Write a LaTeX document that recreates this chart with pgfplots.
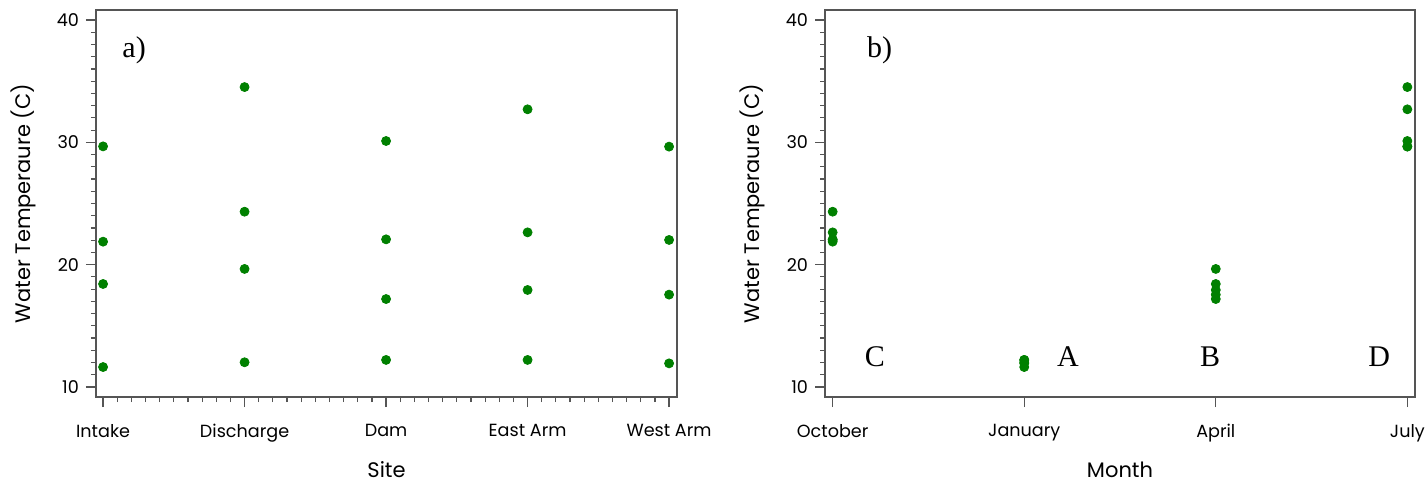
\documentclass[border=0pt]{standalone}
\usepackage{pgfplots}
\usepackage{pgfplotstable}
\pgfplotsset{compat=1.18}
\usepackage{fontspec}
\setmainfont{Poppins}
\newfontfamily\seriffont{Liberation Serif}

\definecolor{ptgreen}{RGB}{0,128,0}
\definecolor{axisgray}{RGB}{85,85,85}

% Water temperature by sampling site (0 = Intake ... 4 = West Arm)
\pgfplotstableread{
x y
0 29.67
0 21.88
0 18.42
0 11.63
1 34.52
1 24.33
1 19.65
1 12.02
2 30.11
2 22.07
2 17.19
2 12.21
3 32.70
3 22.64
3 17.93
3 12.21
4 29.65
4 22.02
4 17.55
4 11.93
}\sitedata

% Water temperature by month (0 = October ... 3 = July)
\pgfplotstableread{
x y
0 24.33
0 22.64
0 22.07
0 22.02
0 21.88
1 11.63
1 12.02
1 12.21
1 12.21
1 11.93
2 18.42
2 19.65
2 17.19
2 17.93
2 17.55
3 29.67
3 34.52
3 30.11
3 32.70
3 29.65
}\monthdata

\tikzset{tag/.style={inner sep=0pt, font=\seriffont\fontsize{15}{17}\selectfont}}

\pgfplotsset{
  panel/.style={
    scale only axis,
    height=193.5pt,
    ymin=9.18, ymax=40.82,
    ytick={10,20,30,40},
    minor y tick num=9,
    tick align=outside,
    tick pos=left,
    major tick length=5pt,
    minor tick length=2.5pt,
    axis line style={axisgray, line width=0.7pt},
    every tick/.style={axisgray, line width=0.6pt},
    /pgf/number format/assume math mode=true,
    tick label style={font=\fontsize{8.8}{10}\selectfont},
    xticklabel shift=5pt,
    label style={font=\fontsize{10.5}{12}\selectfont},
    ylabel={Water Temperaure (C)},
    ylabel style={at={([xshift=-36.5pt]axis description cs:0,0.5)}, anchor=center, rotate=0},
    xlabel style={at={([yshift=-36.5pt]axis description cs:0.5,0)}, anchor=center},
    clip=false,
  },
  dots/.style={only marks, mark=*, mark size=2.25pt,
    mark options={draw=ptgreen, fill=ptgreen}},
}

\begin{document}
\begin{tikzpicture}
\path[use as bounding box] (0,0) rectangle (714pt,241.5pt);

\begin{axis}[panel,
  at={(48pt,43pt)}, anchor=south west,
  width=290.5pt,
  xmin=-0.05, xmax=4.056,
  xtick={0,1,2,3,4},
  xticklabels={Intake,Discharge,Dam,East Arm,West Arm},
  minor x tick num=9,
  xlabel={Site},
]
\addplot[dots] table[x=x, y=y] {\sitedata};
\node[tag, anchor=west] at (axis cs:0.134,37.55) {a)};
\end{axis}

\begin{axis}[panel,
  at={(412.5pt,43pt)}, anchor=south west,
  width=295pt,
  xmin=-0.04, xmax=3.04,
  xtick={0,1,2,3},
  xticklabels={October,January,April,July},
  xlabel={Month},
]
\addplot[dots] table[x=x, y=y] {\monthdata};
\node[tag, anchor=west] at (axis cs:0.178,37.5) {b)};
\node[tag] at (axis cs:0.22,12.45) {C};
\node[tag] at (axis cs:1.228,12.45) {A};
\node[tag] at (axis cs:1.97,12.45) {B};
\node[tag] at (axis cs:2.853,12.45) {D};
\end{axis}
\end{tikzpicture}
\end{document}
